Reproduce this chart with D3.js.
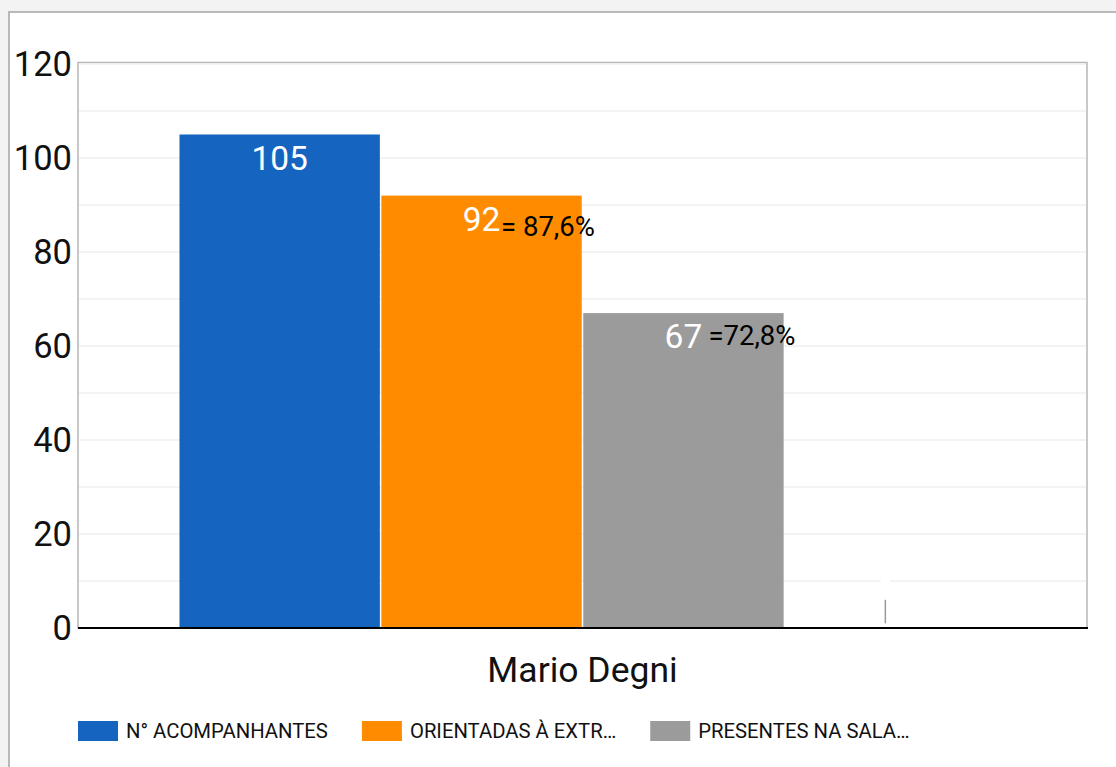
<!DOCTYPE html>
<html>
<head>
<meta charset="utf-8">
<script src="https://cdn.jsdelivr.net/npm/d3@7"></script>
<style>
  html, body { margin: 0; padding: 0; background: #f3f3f3; }
  svg { display: block; }
  text { font-family: Roboto, "Noto Sans", sans-serif; }
</style>
</head>
<body>
<script>
const categories = ["Mario Degni"];
const seriesNames = ["N° ACOMPANHANTES", "ORIENTADAS À EXTR…", "PRESENTES NA SALA…", ""];
const seriesValues = [105, 92, 67, 0];
const seriesColors = ["#1565c0", "#ff8c00", "#9b9b9b", "#9b9b9b"];
const percentNotes = ["", "= 87,6%", "=72,8%", ""];
const yTicks = [0, 20, 40, 60, 80, 100, 120];
const gridValues = d3.range(10, 121, 10);

const W = 1116, H = 767;
const svg = d3.select("body").append("svg").attr("width", W).attr("height", H);

// outer panel
svg.append("rect").attr("x", 0).attr("y", 0).attr("width", W).attr("height", H).attr("fill", "#f3f3f3");
svg.append("rect").attr("x", 9).attr("y", 12).attr("width", W + 20).attr("height", H + 20)
  .attr("fill", "#ffffff").attr("stroke", "#b9b9b9").attr("stroke-width", 2);

const plot = { left: 78, right: 1087, top: 64, bottom: 628 };

const y = d3.scaleLinear().domain([0, 120]).range([plot.bottom, plot.top]);
const x0 = d3.scaleBand().domain(categories).range([plot.left, plot.right]).paddingInner(0).paddingOuter(0.1259);
const x1 = d3.scaleBand().domain(d3.range(seriesValues.length)).range([0, x0.bandwidth()]).paddingInner(0.0075).paddingOuter(0);

// frame
svg.append("rect").attr("x", plot.left).attr("y", plot.top - 1.5).attr("width", plot.right - plot.left).attr("height", plot.bottom - plot.top + 1.5)
  .attr("fill", "none").attr("stroke", "#b7b7b7").attr("stroke-width", 1.5);

// gridlines
svg.append("g").selectAll("line").data(gridValues).join("line")
  .attr("x1", plot.left + 1).attr("x2", plot.right - 1)
  .attr("y1", d => y(d)).attr("y2", d => y(d))
  .attr("stroke", "#efefef").attr("stroke-width", 1.5);

// y tick labels
svg.append("g").selectAll("text").data(yTicks).join("text")
  .attr("x", plot.left - 6).attr("y", d => y(d)).attr("dy", "0.36em")
  .attr("text-anchor", "end").attr("font-size", 34.5).attr("fill", "#111")
  .text(d => d);

// bars
const g = svg.append("g").selectAll("g").data(categories).join("g")
  .attr("transform", d => `translate(${x0(d)},0)`);

g.selectAll("rect").data(seriesValues.map((v, i) => ({ v, i })).filter(d => d.v > 0)).join("rect")
  .attr("x", d => x1(d.i)).attr("width", x1.bandwidth())
  .attr("y", d => y(d.v)).attr("height", d => y(0) - y(d.v))
  .attr("fill", d => seriesColors[d.i]);

// value labels
g.selectAll("text.val").data(seriesValues.map((v, i) => ({ v, i })).filter(d => d.v > 0)).join("text")
  .attr("class", "val")
  .attr("x", d => x1(d.i) + x1.bandwidth() / 2)
  .attr("y", d => y(d.v) + 35)
  .attr("text-anchor", "middle").attr("font-size", 33.5).attr("fill", "#ffffff")
  .text(d => d.v);

// percent notes
const noteDx = [0, 19.5, 25, 0];
const noteDy = [0, 40, 32, 0];
g.selectAll("text.note").data(percentNotes.map((t, i) => ({ t, i, v: seriesValues[i] })).filter(d => d.t)).join("text")
  .attr("class", "note")
  .attr("x", d => x1(d.i) + x1.bandwidth() / 2 + noteDx[d.i])
  .attr("y", d => y(d.v) + noteDy[d.i])
  .attr("font-size", 27.5).attr("fill", "#000")
  .text(d => d.t);

// fourth (empty) series marker
g.append("line")
  .attr("x1", x1(3) + x1.bandwidth() / 2).attr("x2", x1(3) + x1.bandwidth() / 2)
  .attr("y1", y(6)).attr("y2", y(1))
  .attr("stroke", "#9b9b9b").attr("stroke-width", 1.5);
g.append("rect")
  .attr("x", x1(3) + x1.bandwidth() / 2 - 4.5).attr("y", y(10) - 2).attr("width", 9).attr("height", 4)
  .attr("fill", "#ffffff");

// baseline
svg.append("line").attr("x1", plot.left).attr("x2", plot.right + 1)
  .attr("y1", y(0)).attr("y2", y(0)).attr("stroke", "#000").attr("stroke-width", 2);

// category label
svg.append("g").selectAll("text").data(categories).join("text")
  .attr("x", d => x0(d) + x0.bandwidth() / 2).attr("y", 682)
  .attr("text-anchor", "middle").attr("font-size", 35.5).attr("fill", "#111")
  .text(d => d);

// legend
const legend = svg.append("g");
let lx = plot.left;
seriesNames.forEach((name, i) => {
  if (!name) return;
  legend.append("rect").attr("x", lx).attr("y", 721).attr("width", 40).attr("height", 20).attr("fill", seriesColors[i]);
  const t = legend.append("text").attr("x", lx + 48).attr("y", 738)
    .attr("font-size", 20.3).attr("fill", "#111").text(name);
  lx = lx + 48 + t.node().getComputedTextLength() + 34;
});
</script>
</body>
</html>
